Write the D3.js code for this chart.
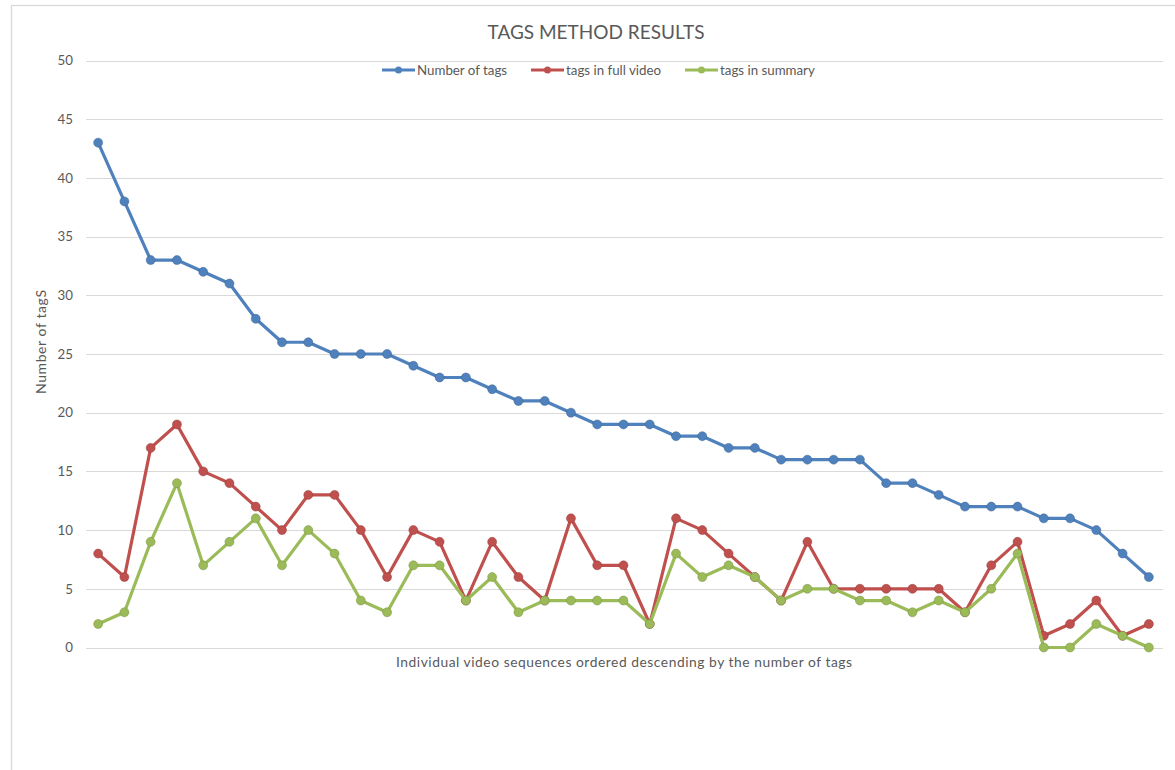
<!DOCTYPE html>
<html>
<head>
<meta charset="utf-8">
<script src="https://cdn.jsdelivr.net/npm/d3@7/dist/d3.min.js"></script>
<style>
html,body{margin:0;padding:0;background:#fff;}
svg{display:block;}
text{font-family:Lato,"Liberation Sans",sans-serif;fill:#595959;}
</style>
</head>
<body>
<script>
const title = "TAGS METHOD RESULTS";
const xTitle = "Individual video sequences ordered descending by the number of tags";
const yTitle = "Number of tagS";
const seriesNames = ["Number of tags", "tags in full video", "tags in summary"];
const seriesColors = ["#4f81bd", "#c0504d", "#9bbb59"];
const numberOfTags = [43,38,33,33,32,31,28,26,26,25,25,25,24,23,23,22,21,21,20,19,19,19,18,18,17,17,16,16,16,16,14,14,13,12,12,12,11,11,10,8,6];
const tagsInFullVideo = [8,6,17,19,15,14,12,10,13,13,10,6,10,9,4,9,6,4,11,7,7,2,11,10,8,6,4,9,5,5,5,5,5,3,7,9,1,2,4,1,2];
const tagsInSummary = [2,3,9,14,7,9,11,7,10,8,4,3,7,7,4,6,3,4,4,4,4,2,8,6,7,6,4,5,5,4,4,3,4,3,5,8,0,0,2,1,0];
const yTicks = [0,5,10,15,20,25,30,35,40,45,50];

const W = 1175, H = 770;
const svg = d3.select("body").append("svg").attr("width", W).attr("height", H);

// chart border
svg.append("rect").attr("x", 11.5).attr("y", 5.5).attr("width", 1300).attr("height", 900)
  .attr("fill", "none").attr("stroke", "#d9d9d9").attr("stroke-width", 1.3);

const idx = d3.range(numberOfTags.length);
const x = d3.scalePoint().domain(idx).range([85, 1162]).padding(0.5);
const y = d3.scaleLinear().domain([0, 50]).range([647.5, 60.5]);

// gridlines
svg.append("g").selectAll("line").data(yTicks).join("line")
  .attr("x1", 86).attr("x2", 1163)
  .attr("y1", d => Math.round(y(d)) + 0.5).attr("y2", d => Math.round(y(d)) + 0.5)
  .attr("stroke", "#d9d9d9").attr("stroke-width", 1.2);

// y axis labels
const yAxis = d3.axisLeft(y).tickValues(yTicks).tickSize(0).tickPadding(0);
const gy = svg.append("g").attr("transform", "translate(73,0)").call(yAxis);
gy.select(".domain").remove();
gy.selectAll("text").style("font-family", "Lato, sans-serif").style("font-size", "13.3px").attr("fill", "#595959");

// title
svg.append("text").attr("x", 596).attr("y", 39).attr("text-anchor", "middle")
  .style("font-size", "19px").text(title);

// axis titles
svg.append("text").attr("x", 624).attr("y", 667).attr("text-anchor", "middle")
  .attr("textLength", 456).attr("lengthAdjust", "spacing")
  .style("font-size", "13.8px").text(xTitle);
svg.append("text").attr("transform", "translate(46,342) rotate(-90)").attr("text-anchor", "middle")
  .attr("textLength", 104).attr("lengthAdjust", "spacing")
  .style("font-size", "14px").text(yTitle);

// series
const series = [numberOfTags, tagsInFullVideo, tagsInSummary];
const line = d3.line().x((d, i) => x(i)).y(d => y(d));
series.forEach((s, k) => {
  const g = svg.append("g");
  g.append("path").datum(s).attr("d", line).attr("fill", "none")
    .attr("stroke", seriesColors[k]).attr("stroke-width", 3.2).attr("stroke-linejoin", "round");
  g.selectAll("circle").data(s).join("circle")
    .attr("cx", (d, i) => x(i)).attr("cy", d => y(d)).attr("r", 4.5)
    .attr("fill", seriesColors[k]).attr("stroke", d3.color(seriesColors[k]).darker(0.8)).attr("stroke-opacity", 0.6).attr("stroke-width", 0.8);
});

// legend
const legendX = [382, 531, 685];
const lg = svg.append("g");
seriesNames.forEach((n, k) => {
  const lx = legendX[k], ly = 70;
  lg.append("line").attr("x1", lx).attr("x2", lx + 33).attr("y1", ly).attr("y2", ly)
    .attr("stroke", seriesColors[k]).attr("stroke-width", 3);
  lg.append("circle").attr("cx", lx + 16.5).attr("cy", ly).attr("r", 3.5)
    .attr("fill", seriesColors[k]);
  lg.append("text").attr("x", lx + 35).attr("y", ly + 4.5).style("font-size", "13.3px").text(n);
});
</script>
</body>
</html>
